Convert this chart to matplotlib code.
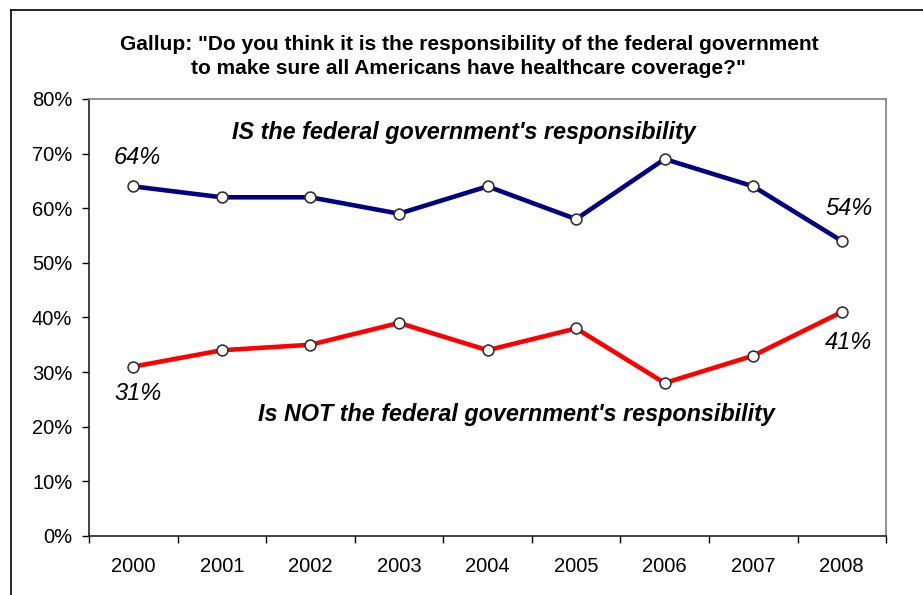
import matplotlib.pyplot as plt
from matplotlib.lines import Line2D
from matplotlib.ticker import FixedLocator, PercentFormatter

plt.rcParams['font.family'] = ['Liberation Sans', 'DejaVu Sans']

# Gallup poll data
years = ['2000', '2001', '2002', '2003', '2004', '2005', '2006', '2007', '2008']
is_resp = [64, 62, 62, 59, 64, 58, 69, 64, 54]
not_resp = [31, 34, 35, 39, 34, 38, 28, 33, 41]

fig = plt.figure(figsize=(9.23, 5.95), dpi=100)
ax = fig.add_axes([0.0964, 0.0992, 0.8636, 0.7345])

x = list(range(len(years)))
marker_style = dict(marker='o', markersize=7.8, markerfacecolor='white',
                    markeredgecolor='#333333', markeredgewidth=1.2)
ax.plot(x, is_resp, color='#000080', linewidth=3.3, **marker_style)
ax.plot(x, not_resp, color='#ff0000', linewidth=3.3, **marker_style)

ax.set_xlim(-0.5, len(years) - 0.5)
ax.set_ylim(0, 80)
ax.set_yticks(range(0, 81, 10))
ax.yaxis.set_major_formatter(PercentFormatter(decimals=0))

# year labels centred, tick marks between categories
ax.set_xticks(x)
ax.set_xticklabels(years)
ax.tick_params(axis='x', which='major', length=0, pad=15)
ax.xaxis.set_minor_locator(FixedLocator([i + 0.5 for i in range(-1, len(years))]))
ax.tick_params(axis='x', which='minor', length=5, width=1, direction='out')
ax.tick_params(axis='y', length=5, width=1, direction='out', pad=7)
ax.tick_params(labelsize=14.5)

for side in ['top', 'right']:
    ax.spines[side].set_color('#808080')
for side in ['left', 'bottom']:
    ax.spines[side].set_color('#222222')
for sp in ax.spines.values():
    sp.set_linewidth(1.2)

# end point labels
ax.text(0.05, is_resp[0] + 5.2, f'{is_resp[0]}%', fontsize=17, style='italic', ha='center', va='center')
ax.text(8.08, is_resp[-1] + 6, f'{is_resp[-1]}%', fontsize=17, style='italic', ha='center', va='center')
ax.text(0.05, not_resp[0] - 5, f'{not_resp[0]}%', fontsize=17, style='italic', ha='center', va='center')
ax.text(8.08, not_resp[-1] - 5.6, f'{not_resp[-1]}%', fontsize=17, style='italic', ha='center', va='center')

ax.text(3.73, 73.8, "IS the federal government's responsibility", fontsize=16.8,
        fontweight='bold', style='italic', ha='center', va='center')
ax.text(4.33, 22.3, "Is NOT the federal government's responsibility", fontsize=16.8,
        fontweight='bold', style='italic', ha='center', va='center')

fig.text(0.508, 0.905, 'Gallup: "Do you think it is the responsibility of the federal government\n'
         'to make sure all Americans have healthcare coverage?"',
         fontsize=15, fontweight='bold', ha='center', va='center', linespacing=1.38)

# partial outer frame (top and left edges)
fig.add_artist(Line2D([11 / 923, 11 / 923], [0, 1 - 10 / 595], transform=fig.transFigure,
                      color='black', linewidth=1.2))
fig.add_artist(Line2D([11 / 923, 1], [1 - 10 / 595, 1 - 10 / 595], transform=fig.transFigure,
                      color='black', linewidth=1.2))

fig.savefig('out.png', dpi=100)
